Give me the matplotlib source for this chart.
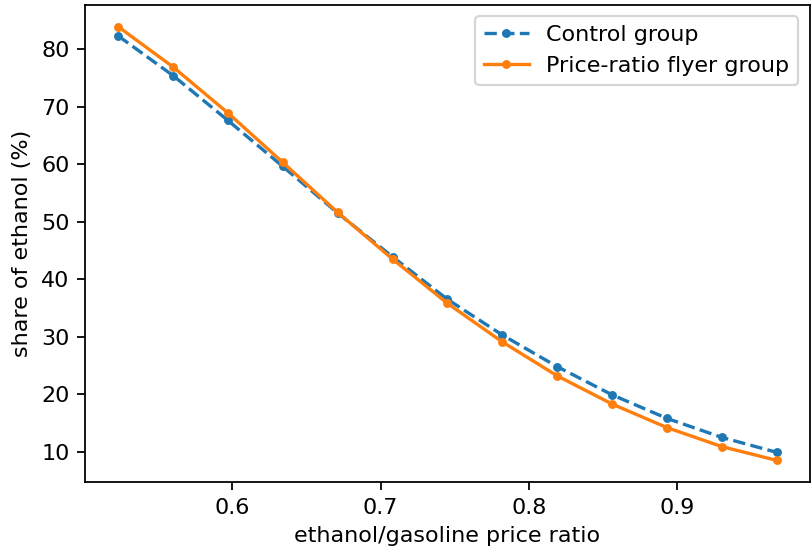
import matplotlib
matplotlib.use('Agg')
import matplotlib.pyplot as plt

# price ratio (x) and share of ethanol in % for the two groups
ratio = [0.523, 0.560, 0.597, 0.634, 0.671, 0.708, 0.745, 0.782, 0.819, 0.856, 0.893, 0.930, 0.967]
control = [82.3, 75.4, 67.6, 59.6, 51.5, 43.9, 36.5, 30.3, 24.8, 19.9, 15.8, 12.5, 9.9]
flyer = [83.9, 76.9, 68.9, 60.3, 51.6, 43.5, 35.8, 29.1, 23.2, 18.3, 14.2, 10.9, 8.5]

fig = plt.figure(figsize=(8.12 / 1.6, 5.56 / 1.6), dpi=160)
fig.subplots_adjust(left=0.105, right=0.997, top=0.991, bottom=0.133)

plt.plot(ratio, control, '.--', label='Control group')
plt.plot(ratio, flyer, '.-', label='Price-ratio flyer group')

plt.xlabel('ethanol/gasoline price ratio')
plt.ylabel('share of ethanol (%)')
plt.legend(loc='upper right')

plt.savefig('out.png', dpi=160)
